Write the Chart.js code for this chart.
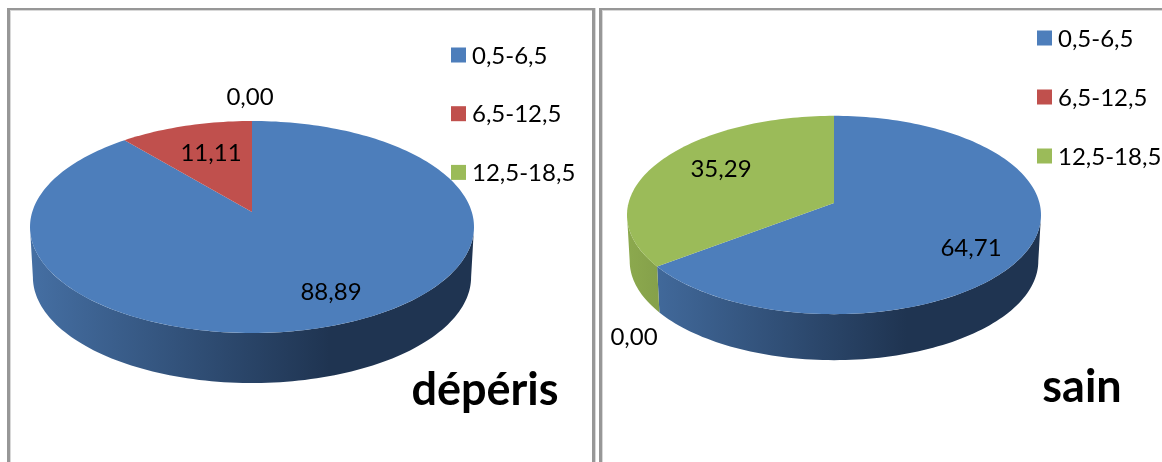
<!DOCTYPE html>
<html>
<head>
<meta charset="utf-8">
<title>Classes de diamètre</title>
<script src="https://cdn.jsdelivr.net/npm/chart.js@4"></script>
<style>
  html, body { margin: 0; padding: 0; background: #fff; overflow: hidden; }
  body { position: relative; width: 1162px; height: 462px; }
  canvas { position: absolute; top: 0; }
  /* panel frames run off the bottom of the page */
  .frame {
    position: absolute; top: 8px; height: 470px; box-sizing: border-box;
    border: 3px solid #979797; border-top-width: 2px;
    box-shadow: inset 1px 1px 0 #d8d8d8, 1px 0 0 #d8d8d8;
  }
</style>
</head>
<body>
<div class="frame" style="left:7px; width:588px"></div>
<div class="frame" style="left:599px; width:580px"></div>
<canvas id="deperisChart"></canvas>
<canvas id="sainChart"></canvas>

<script>
const categories = ['0,5-6,5', '6,5-12,5', '12,5-18,5'];
const deperisValues = [88.89, 11.11, 0.00];
const sainValues = [64.71, 0.00, 35.29];

const sliceColors = ['#4d7ebb', '#c0504d', '#9bbb59'];
const sideLight = ['#456fa3', '#a84643', '#8ca94e'];
const sideDark = ['#1f3451', '#4f201f', '#4e5f2b'];

const FONT = 'Lato, "Open Sans", sans-serif';

// position on the tilted pie for an angle measured clockwise from the top.
// k gives the perspective, squash the height of the ellipse, lower = bottom rim
function tilt_point(arc, angle, tilt, lower) {
  const r = arc.outerRadius;
  const k = tilt.k;
  const a = r * Math.sqrt(1 - k * k);
  const b = tilt.squash * r * (1 - k * k);
  const apexY = arc.y + k * tilt.squash * r;
  const u = Math.sin(angle);
  const v = -Math.cos(angle);
  const w = 1 + k * v;
  const narrow = lower ? tilt.narrow : 1;
  return {
    x: arc.x + a * u / w * narrow,
    y: apexY + b * v / w + (lower ? tilt.depth : 0)
  };
}

function rim_points(arc, from, to, tilt, lower) {
  const steps = Math.max(2, Math.ceil((to - from) * 40));
  const pts = [];
  for (let i = 0; i <= steps; i++) {
    pts.push(tilt_point(arc, from + (to - from) * i / steps, tilt, lower));
  }
  return pts;
}

function draw_side(ctx, arc, index, tilt) {
  // only the front part of the rim shows
  const front = Math.acos(tilt.k);
  const from = Math.max(arc.startAngle + Math.PI / 2, front);
  const to = Math.min(arc.endAngle + Math.PI / 2, 2 * Math.PI - front);
  if (to <= from) return;

  const r = arc.outerRadius;
  const grad = ctx.createLinearGradient(arc.x - r, 0, arc.x + 0.35 * r, 0);
  grad.addColorStop(0, sideLight[index]);
  grad.addColorStop(1, sideDark[index]);

  const upper = rim_points(arc, from, to, tilt, false);
  const lower = rim_points(arc, from, to, tilt, true).reverse();
  ctx.beginPath();
  upper.concat(lower).forEach((p, i) => i ? ctx.lineTo(p.x, p.y) : ctx.moveTo(p.x, p.y));
  ctx.closePath();
  ctx.fillStyle = grad;
  ctx.fill();
}

function draw_top(ctx, arc, index, tilt) {
  const from = arc.startAngle + Math.PI / 2;
  const to = arc.endAngle + Math.PI / 2;
  if (to <= from) return;
  ctx.beginPath();
  ctx.moveTo(arc.x, arc.y + tilt.k * tilt.squash * arc.outerRadius);
  rim_points(arc, from, to, tilt, false).forEach(p => ctx.lineTo(p.x, p.y));
  ctx.closePath();
  ctx.fillStyle = sliceColors[index];
  ctx.fill();
}

// replaces the flat arcs by the 3D look, the angles still come from the controller
const tiltedPie = {
  id: 'tiltedPie',
  beforeDatasetDraw(chart, args, opts) {
    const ctx = chart.ctx;
    const arcs = args.meta.data;
    ctx.save();
    arcs.forEach((arc, i) => draw_side(ctx, arc, i, opts));
    arcs.forEach((arc, i) => draw_top(ctx, arc, i, opts));
    ctx.restore();
    return false;
  },
  afterDatasetsDraw(chart, args, opts) {
    const ctx = chart.ctx;
    const values = chart.data.datasets[0].data;
    ctx.save();
    ctx.textBaseline = 'middle';
    ctx.fillStyle = '#000';

    // value labels
    ctx.textAlign = 'center';
    ctx.font = `${opts.labelSize}px ${FONT}`;
    values.forEach((v, i) => {
      const spot = opts.labelSpots[i];
      ctx.fillText(v.toFixed(2).replace('.', ','), spot[0], spot[1]);
    });

    // legend
    ctx.textAlign = 'left';
    chart.data.labels.forEach((label, i) => {
      const y = opts.legendY + i * opts.legendStep;
      ctx.fillStyle = sliceColors[i];
      ctx.fillRect(opts.legendX, y - 7.5, 15, 15);
      ctx.fillStyle = '#000';
      ctx.fillText(label, opts.legendX + 21, y + 1);
    });

    // panel name
    ctx.textAlign = 'center';
    ctx.textBaseline = 'alphabetic';
    ctx.font = `bold ${opts.titleSize}px ${FONT}`;
    ctx.fillText(opts.title, opts.titleX, opts.titleY);
    ctx.restore();
  }
};

function init_pie(canvasId, values, left, width, padding, tilt) {
  const canvas = document.getElementById(canvasId);
  canvas.style.left = left + 'px';
  canvas.width = width;
  canvas.height = 462;
  canvas.style.width = width + 'px';
  canvas.style.height = '462px';

  return new Chart(canvas.getContext('2d'), {
    type: 'pie',
    data: {
      labels: categories,
      datasets: [{
        data: values,
        backgroundColor: sliceColors,
        borderWidth: 0
      }]
    },
    options: {
      responsive: false,
      animation: false,
      layout: { padding: padding },
      plugins: {
        legend: { display: false },
        tooltip: { enabled: false },
        tiltedPie: tilt
      }
    },
    plugins: [tiltedPie]
  });
}

init_pie('deperisChart', deperisValues, 0, 598,
  { left: 30, right: 124, top: 5, bottom: 13 },
  {
    k: -0.1415, squash: 0.4775, depth: 50, narrow: 0.987,
    labelSize: 24, labelSpots: [[331, 292], [211, 153], [250, 97]],
    legendX: 451, legendY: 55, legendStep: 58.7,
    title: 'dépéris', titleSize: 45, titleX: 485, titleY: 405
  });

init_pie('sainChart', sainValues, 598, 564,
  { left: 29, right: 121, top: 8, bottom: 40 },
  {
    k: -0.121, squash: 0.479, depth: 46, narrow: 0.987,
    labelSize: 24, labelSpots: [[373, 248], [36, 337], [123, 169]],
    legendX: 439, legendY: 38, legendStep: 59,
    title: 'sain', titleSize: 45, titleX: 484, titleY: 402
  });
</script>
</body>
</html>
